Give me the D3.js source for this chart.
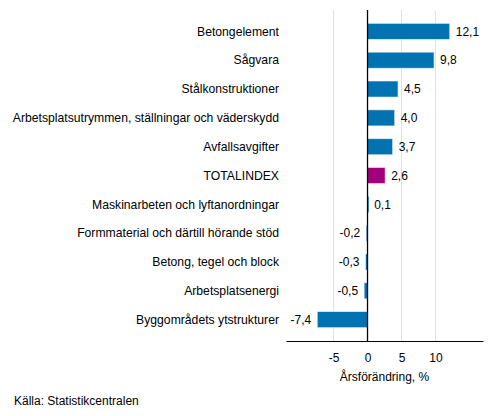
<!DOCTYPE html>
<html>
<head>
<meta charset="utf-8">
<script src="https://cdn.jsdelivr.net/npm/d3@7"></script>
<style>
  body { margin: 0; background: #fff; }
  text { font-family: "Liberation Sans", Arial, sans-serif; font-size: 12px; fill: #000; }
</style>
</head>
<body>
<div class="chart"></div>
<script>
const categories = [
  "Betongelement",
  "Sågvara",
  "Stålkonstruktioner",
  "Arbetsplatsutrymmen, ställningar och väderskydd",
  "Avfallsavgifter",
  "TOTALINDEX",
  "Maskinarbeten och lyftanordningar",
  "Formmaterial och därtill hörande stöd",
  "Betong, tegel och block",
  "Arbetsplatsenergi",
  "Byggområdets ytstrukturer"
]
const values = [12.1, 9.8, 4.5, 4.0, 3.7, 2.6, 0.1, -0.2, -0.3, -0.5, -7.4]
const xTicks = [-5, 0, 5, 10]

const width = 493, height = 416
const plot = { left: 286, right: 483, top: 10, bottom: 341 }

const svg = d3.select('.chart').append('svg')
  .attr('width', width)
  .attr('height', height)

const x = d3.scaleLinear().domain([-12, 17]).range([plot.left, plot.right])
const y = d3.scaleBand().domain(categories).range([17, 334]).paddingInner(0.44).paddingOuter(0.22)

const fmt = d => d3.format('.1f')(d).replace('.', ',').replace('−', '-')

// grid
svg.append('g')
  .selectAll('line')
  .data(xTicks.filter(d => d !== 0))
  .enter()
  .append('line')
  .attr('x1', d => x(d)).attr('x2', d => x(d))
  .attr('y1', plot.top).attr('y2', plot.bottom)
  .attr('stroke', '#e0e0e0')
  .attr('stroke-width', 1)

// bars
svg.append('g')
  .selectAll('rect')
  .data(values)
  .enter()
  .append('rect')
  .attr('x', d => Math.min(x(0), x(d)))
  .attr('y', (d, i) => y(categories[i]))
  .attr('width', d => Math.max(Math.abs(x(d) - x(0)), 1.5))
  .attr('height', y.bandwidth())
  .attr('fill', (d, i) => categories[i] === 'TOTALINDEX' ? '#a4007e' : '#0073b0')
  .attr('stroke', 'rgba(255,255,255,0.6)')
  .attr('stroke-width', 1)

// value labels
svg.append('g')
  .selectAll('text')
  .data(values)
  .enter()
  .append('text')
  .attr('x', d => d >= 0 ? x(d) + 6 : x(d) - 6)
  .attr('y', (d, i) => y(categories[i]) + y.bandwidth() / 2)
  .attr('dy', '0.35em')
  .attr('text-anchor', d => d >= 0 ? 'start' : 'end')
  .text(fmt)

// category labels
svg.append('g')
  .selectAll('text')
  .data(categories)
  .enter()
  .append('text')
  .attr('x', 279)
  .attr('y', d => y(d) + y.bandwidth() / 2)
  .attr('dy', '0.35em')
  .attr('text-anchor', 'end')
  .style('font-size', '12.2px')
  .text(d => d)

// zero line
svg.append('line')
  .attr('x1', x(0)).attr('x2', x(0))
  .attr('y1', plot.top).attr('y2', plot.bottom)
  .attr('stroke', '#000')
  .attr('stroke-width', 1.3)

// x axis
const xAxis = svg.append('g')
  .attr('transform', `translate(0,${plot.bottom})`)
  .call(d3.axisBottom(x).tickValues(xTicks).tickSize(0).tickPadding(12).tickFormat(d => d))
xAxis.select('.domain').attr('stroke', '#000')
xAxis.selectAll('text').style('font-size', '12px').attr('fill', '#000')

svg.append('text')
  .attr('x', (plot.left + plot.right) / 2)
  .attr('y', 381)
  .attr('text-anchor', 'middle')
  .text('Årsförändring, %')

svg.append('text')
  .attr('x', 14)
  .attr('y', 405)
  .text('Källa: Statistikcentralen')
</script>
</body>
</html>
